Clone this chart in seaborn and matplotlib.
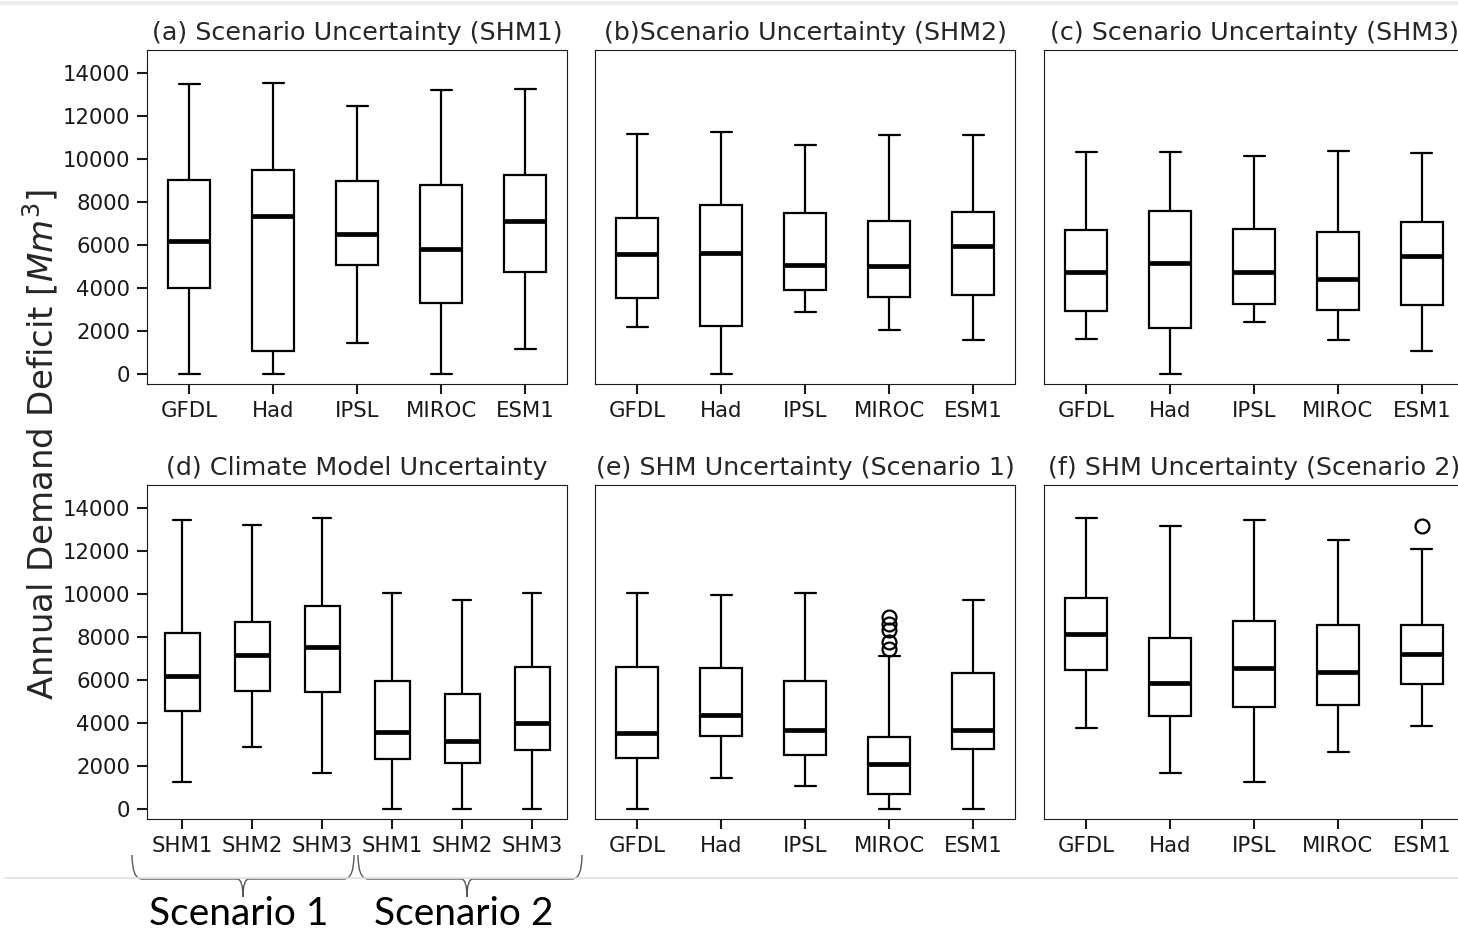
import pandas as pd
import matplotlib.pyplot as plt
import seaborn as sns
from matplotlib.path import Path
from matplotlib.patches import PathPatch
from matplotlib.lines import Line2D

gcms = ["GFDL", "Had", "IPSL", "MIROC", "ESM1"]
shms = ["SHM1", "SHM2", "SHM3", "SHM1", "SHM2", "SHM3"]
shm_keys = ["S1 SHM1", "S1 SHM2", "S1 SHM3", "S2 SHM1", "S2 SHM2", "S2 SHM3"]

titles = ["(a) Scenario Uncertainty (SHM1)", "(b)Scenario Uncertainty (SHM2)",
          "(c) Scenario Uncertainty (SHM3)", "(d) Climate Model Uncertainty",
          "(e) SHM Uncertainty (Scenario 1)", "(f) SHM Uncertainty (Scenario 2)"]

# box summaries: lower whisker, Q1, median, Q3, upper whisker
a_low = [0, 0, 1420, 0, 1150]
a_q1 = [3980, 1050, 5060, 3310, 4750]
a_med = [6200, 7360, 6500, 5800, 7120]
a_q3 = [9000, 9470, 8960, 8770, 9250]
a_high = [13460, 13540, 12470, 13180, 13230]

b_low = [2170, 0, 2880, 2060, 1560]
b_q1 = [3530, 2240, 3880, 3600, 3680]
b_med = [5590, 5620, 5070, 5030, 5960]
b_q3 = [7240, 7870, 7460, 7090, 7520]
b_high = [11140, 11220, 10630, 11110, 11080]

c_low = [1640, 0, 2430, 1560, 1080]
c_q1 = [2920, 2140, 3260, 2960, 3220]
c_med = [4750, 5150, 4720, 4410, 5480]
c_q3 = [6680, 7550, 6730, 6580, 7070]
c_high = [10320, 10320, 10130, 10380, 10260]

d_low = [1270, 2890, 1650, 0, 0, 0]
d_q1 = [4560, 5500, 5450, 2300, 2160, 2750]
d_med = [6170, 7140, 7510, 3570, 3150, 4000]
d_q3 = [8190, 8680, 9440, 5930, 5360, 6600]
d_high = [13440, 13210, 13520, 10040, 9700, 10040]

e_low = [0, 1420, 1080, 0, 0]
e_q1 = [2350, 3410, 2490, 700, 2800]
e_med = [3540, 4360, 3660, 2090, 3690]
e_q3 = [6600, 6540, 5950, 3350, 6330]
e_high = [10030, 9950, 10030, 7090, 9690]
e_fliers = [[], [], [], [7420, 7780, 8300, 8600, 8900], []]

f_low = [3770, 1650, 1270, 2640, 3860]
f_q1 = [6440, 4340, 4740, 4850, 5790]
f_med = [8140, 5860, 6570, 6350, 7180]
f_q3 = [9780, 7940, 8730, 8560, 8560]
f_high = [13520, 13150, 13440, 12500, 12100]
f_fliers = [[], [], [], [], [13160]]


def expand(low, q1, med, q3, high, fliers):
    # smallest sample whose linear-interpolated quartiles equal the summary
    m = len(fliers)
    k = m + 4
    return [low] * (1 + m) + [q1] * k + [med] + [q3] * k + [high] + list(fliers)


def panel_frame(keys, low, q1, med, q3, high, fliers=None):
    if fliers is None:
        fliers = [[] for _ in keys]
    rows = []
    for i, key in enumerate(keys):
        for v in expand(low[i], q1[i], med[i], q3[i], high[i], fliers[i]):
            rows.append({"model": key, "value": v})
    return pd.DataFrame(rows)


panels = [
    (gcms, gcms, panel_frame(gcms, a_low, a_q1, a_med, a_q3, a_high)),
    (gcms, gcms, panel_frame(gcms, b_low, b_q1, b_med, b_q3, b_high)),
    (gcms, gcms, panel_frame(gcms, c_low, c_q1, c_med, c_q3, c_high)),
    (shm_keys, shms, panel_frame(shm_keys, d_low, d_q1, d_med, d_q3, d_high)),
    (gcms, gcms, panel_frame(gcms, e_low, e_q1, e_med, e_q3, e_high, e_fliers)),
    (gcms, gcms, panel_frame(gcms, f_low, f_q1, f_med, f_q3, f_high, f_fliers)),
]

sns.set_style("ticks", {"axes.edgecolor": "0.1", "axes.linewidth": 1.6,
                        "xtick.color": "0.1", "ytick.color": "0.1",
                        "text.color": "0.15"})
plt.rcParams["font.family"] = ["DejaVu Sans"]

W, H = 1458, 932
fig = plt.figure(figsize=(W / 100, H / 100), dpi=100)

lefts = [147, 595, 1044]
tops = [50, 485]
aw, ah = 420, 334

for idx, (order, labels, df) in enumerate(panels):
    r, c = divmod(idx, 3)
    ax = fig.add_axes([lefts[c] / W, 1 - (tops[r] + ah) / H, aw / W, ah / H])
    sns.boxplot(data=df, x="model", y="value", order=order, color="white",
                linecolor="black", linewidth=1.6, width=0.5, whis=1.5,
                medianprops=dict(linewidth=3.4, color="black"),
                flierprops=dict(marker="o", markersize=10, markerfacecolor="none",
                                markeredgecolor="black", markeredgewidth=1.6),
                ax=ax)
    ax.set_ylim(-464, 15050)
    ax.set_xlim(-0.5, len(order) - 0.5)
    ax.set_xticks(range(len(order)))
    ax.set_xticklabels(labels)
    ax.set_xlabel("")
    ax.set_ylabel("")
    ax.set_title(titles[idx], fontsize=18.3, pad=7)
    ax.tick_params(axis="both", labelsize=15.3, length=7, width=1.5, pad=5)
    if c == 0:
        ax.set_yticks(range(0, 14001, 2000))
    else:
        ax.set_yticks([])
    for s in ax.spines.values():
        s.set_visible(True)

fig.text(40 / W, 1 - 445 / H, "Annual Demand Deficit [$Mm^3$]", rotation=90,
         fontsize=24.5, ha="center", va="center")

# page rules of the source image
fig.add_artist(Line2D([5 / W, 1], [1 - 878 / H] * 2, color="0.88", lw=1.2,
                      transform=fig.transFigure))
fig.add_artist(Line2D([0, 1], [1 - 3 / H] * 2, color="0.93", lw=3,
                      transform=fig.transFigure))


def brace(x0, x1, xm, y_end=855, y_mid=879, y_tip=897):
    pts = [(x0, y_end), (x0, y_mid), (x0 + 10, y_mid), (xm - 6, y_mid),
           (xm, y_mid), (xm, y_tip), (xm, y_mid), (xm + 6, y_mid),
           (x1 - 10, y_mid), (x1, y_mid), (x1, y_end)]
    codes = [Path.MOVETO, Path.CURVE3, Path.CURVE3, Path.LINETO,
             Path.CURVE3, Path.CURVE3, Path.CURVE3, Path.CURVE3,
             Path.LINETO, Path.CURVE3, Path.CURVE3]
    verts = [(x / W, 1 - y / H) for x, y in pts]
    fig.add_artist(PathPatch(Path(verts, codes), fill=False, lw=1.0,
                             edgecolor="0.35", transform=fig.transFigure))


brace(132, 354, 243)
brace(358, 582, 467)

fig.text(239 / W, 1 - 914 / H, "Scenario 1", fontsize=28, family=["Lato", "DejaVu Sans"],
         ha="center", va="center", color="black")
fig.text(464 / W, 1 - 914 / H, "Scenario 2", fontsize=28, family=["Lato", "DejaVu Sans"],
         ha="center", va="center", color="black")

fig.savefig("out.png", dpi=100)
